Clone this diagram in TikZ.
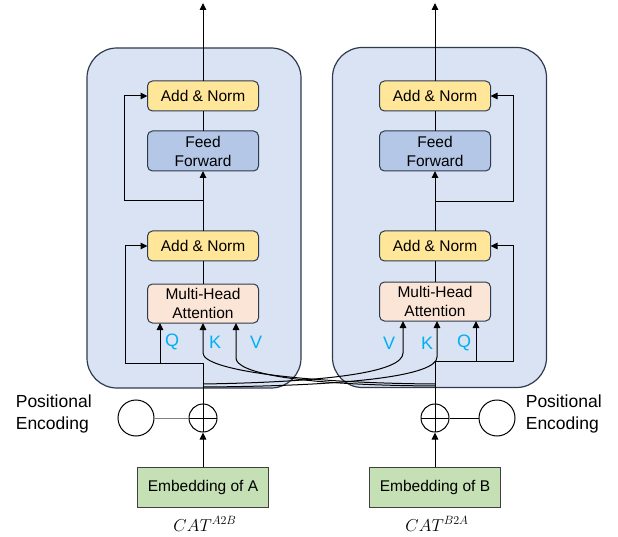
\documentclass[tikz,border=0pt]{standalone}
\usepackage{fontspec}
\setmainfont{Liberation Sans}
\usepackage{tikz}
\usetikzlibrary{positioning,arrows.meta}
\definecolor{edgecol}{HTML}{2E3B4E}
\definecolor{encfill}{HTML}{DAE3F3}
\definecolor{anfill}{HTML}{FFE699}
\definecolor{fffill}{HTML}{B4C7E7}
\definecolor{mhafill}{HTML}{FBE5D6}
\definecolor{embfill}{HTML}{C5E0B4}
\definecolor{embcol}{HTML}{404040}
\definecolor{qkvcol}{HTML}{00B0F0}
\tikzset{
encblock/.style={draw=edgecol, fill=encfill, rounded corners=30pt, line width=1.2pt, minimum width=214pt, minimum height=340pt},
sublayer/.style={draw=edgecol, rounded corners=5pt, line width=1pt, outer sep=0pt, minimum width=111pt, align=center, font=\fontsize{15.5}{19}\selectfont},
addnorm/.style={sublayer, fill=anfill, minimum height=30pt},
ffwd/.style={sublayer, fill=fffill, minimum height=40pt},
mha/.style={sublayer, fill=mhafill, minimum height=39pt},
embed/.style={draw=embcol, fill=embfill, line width=1pt, minimum width=131pt, minimum height=40pt, font=\fontsize{15.5}{18}\selectfont},
plus/.style={draw, circle, line width=1pt, minimum size=28pt, inner sep=0pt, path picture={\draw[line width=1pt] (path picture bounding box.north) -- (path picture bounding box.south) (path picture bounding box.west) -- (path picture bounding box.east);}},
posenc/.style={draw, circle, line width=1pt, minimum size=36pt, inner sep=0pt},
ptext/.style={align=left, font=\fontsize{17.5}{22}\selectfont},
qkv/.style={text=qkvcol, font=\fontsize{18}{20}\selectfont},
arr/.style={-{Triangle[length=7pt,width=6.5pt]}}
}
\begin{document}
\begin{tikzpicture}[x=1pt,y=-1pt,line width=1pt]
\useasboundingbox (0,0) rectangle (618,537);
\node[encblock] (encL) at (194,218) {}; \node[encblock] (encR) at (439.5,217.5) {};
\node[addnorm] (an2L) at (203,96) {Add \& Norm}; \node[ffwd, below=20pt of an2L] (ffL) {Feed\\Forward}; \node[addnorm, below=60pt of ffL] (an1L) {Add \& Norm}; \node[mha, below=23pt of an1L] (mhaL) {Multi-Head\\Attention};
\node[addnorm] (an2R) at (435,96) {Add \& Norm}; \node[ffwd, below=20pt of an2R] (ffR) {Feed\\Forward}; \node[addnorm, below=60pt of ffR] (an1R) {Add \& Norm}; \node[mha, below=21pt of an1R] (mhaR) {Multi-Head\\Attention};
\node[plus] (plusL) at (203,418) {}; \node[posenc] (peL) at (136,418) {}; \node[ptext, anchor=west] (peLtxt) at (12,414) {Positional\\Encoding};
\node[plus] (plusR) at (435,418) {}; \node[posenc] (peR) at (497,418) {}; \node[ptext, anchor=west] (peRtxt) at (522,414) {Positional\\Encoding};
\node[embed] (embL) at (203,487) {Embedding of A}; \node[embed] (embR) at (435,487) {Embedding of B};
\node (capL) at (205,524) {\fontsize{17}{20}\selectfont$CAT^{A2B}$}; \node (capR) at (437,524) {\fontsize{17}{20}\selectfont$CAT^{B2A}$};
\node[qkv] (qLlab) at (172,342) {Q}; \node[qkv] (kLlab) at (215,342) {K}; \node[qkv] (vLlab) at (256,342) {V};
\node[qkv] (vRlab) at (389,343) {V}; \node[qkv] (kRlab) at (427,343) {K}; \node[qkv] (qRlab) at (464,343) {Q};
\coordinate (outL) at (203,3); \coordinate (outR) at (435,3);
\coordinate (r2L) at (203,201); \coordinate (r1L) at (203,363); \coordinate (qL) at (160,363);
\coordinate (r2R) at (435,202); \coordinate (r1R) at (435,361); \coordinate (qR) at (476,361);
\coordinate (vxL) at (203,384); \coordinate (kxL) at (203,387); \coordinate (kxR) at (435,384); \coordinate (vxR) at (435,386);
\draw[arr] (an2L) -- (outL); \draw (ffL) -- (an2L); \draw[arr] (an1L) -- (ffL); \draw (mhaL) -- (an1L);
\draw[arr] (an2R) -- (outR); \draw (ffR) -- (an2R); \draw[arr] (an1R) -- (ffR); \draw (mhaR) -- (an1R);
\draw[arr] (r2L) -- ++(-79,0) |- (an2L.west); \draw[arr] (r1L) -- ++(-78,0) |- (an1L.west); \draw[arr] (qL) -- (qL |- mhaL.south);
\draw[arr] (r2R) -- ++(78,0) |- (an2R.east); \draw[arr] (r1R) -- ++(78,0) |- (an1R.east); \draw[arr] (qR) -- (qR |- mhaR.south);
\draw (plusL) -- (r1L); \draw (plusR) -- (r1R);
\draw[arr] (kxR) .. controls (300,383) and (203,370) .. ([yshift=-30pt]mhaL.south) -- (mhaL.south);
\draw[arr] (vxR) .. controls (290,385) and (236,372) .. ([xshift=33pt,yshift=-35pt]mhaL.south) -- ([xshift=33pt]mhaL.south);
\draw[arr] (vxL) .. controls (330,382) and (403,372) .. ([xshift=-32pt,yshift=-32pt]mhaR.south) -- ([xshift=-32pt]mhaR.south);
\draw[arr] (kxL) .. controls (350,386) and (437,376) .. ([xshift=2pt,yshift=-36pt]mhaR.south) -- ([xshift=2pt]mhaR.south);
\draw[arr] (embL) -- (plusL); \draw[arr] (embR) -- (plusR);
\draw[gray] (peL) -- (plusL); \draw (peR) -- (plusR);
\end{tikzpicture}
\end{document}
